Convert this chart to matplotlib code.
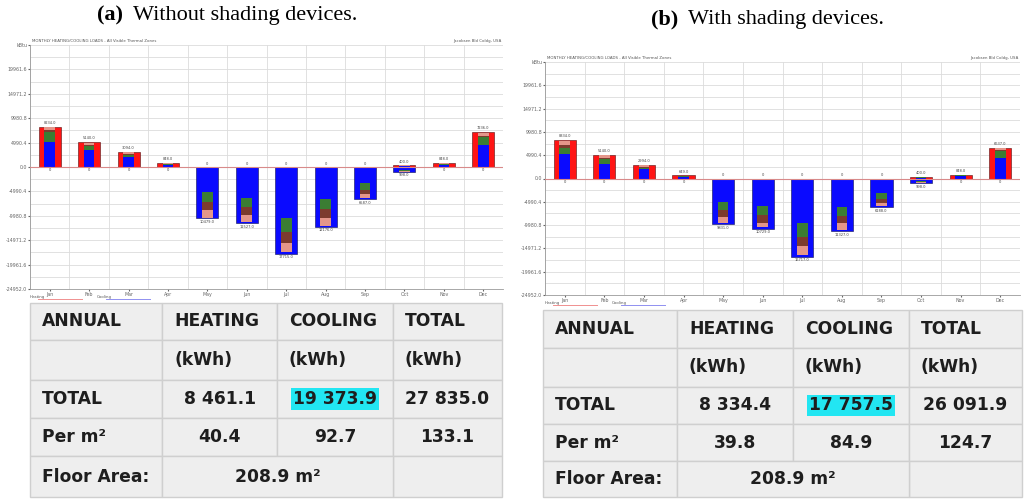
import numpy as np
import matplotlib
matplotlib.use("Agg")
import matplotlib.pyplot as plt
from matplotlib.patches import Rectangle

# =====================================================================
# Data (monthly loads in chart units)
# =====================================================================
MONTHS = ["Jan", "Feb", "Mar", "Apr", "May", "Jun", "Jul", "Aug", "Sep", "Oct", "Nov", "Dec"]
STEP = 4990.4          # y tick spacing of the load charts
UNIT_LABEL = "kBtu"

# (a) without shading devices
heat_tot_a = [8234, 5140, 3094, 848, 0, 0, 0, 0, 0, 400, 848, 7236]
heat_blue_a = [5190, 3493, 2096, 499, 0, 0, 0, 0, 0, 200, 499, 4591]
heat_green_a = [2046, 749, 399, 100, 0, 0, 0, 0, 0, 50, 150, 1497]
heat_brown_a = [349, 250, 200, 100, 0, 0, 0, 0, 0, 50, 50, 349]
heat_pink_a = [499, 499, 299, 100, 0, 0, 0, 0, 0, 50, 100, 599]
cool_tot_a = [0, 0, 0, 0, 10479, 11527, 17715, 12176, 6587, 998, 0, 0]
cool_blue_a = [0, 0, 0, 0, 5190, 6387, 10329, 6587, 3293, 599, 0, 0]
cool_green_a = [0, 0, 0, 0, 2046, 1846, 2894, 2096, 1447, 150, 0, 0]
cool_brown_a = [0, 0, 0, 0, 1647, 1647, 2246, 1647, 848, 100, 0, 0]
cool_pink_a = [0, 0, 0, 0, 1447, 1447, 1996, 1647, 798, 100, 0, 0]

# (b) with shading devices
heat_tot_b = [8334, 5140, 2994, 649, 0, 0, 0, 0, 0, 400, 848, 6637]
heat_blue_b = [5339, 3194, 1946, 399, 0, 0, 0, 0, 0, 200, 499, 4491]
heat_green_b = [1297, 898, 399, 100, 0, 0, 0, 0, 0, 50, 150, 1297]
heat_brown_b = [599, 300, 200, 50, 0, 0, 0, 0, 0, 50, 50, 300]
heat_pink_b = [848, 599, 300, 50, 0, 0, 0, 0, 0, 50, 100, 399]
cool_tot_b = [0, 0, 0, 0, 9831, 10729, 16717, 11327, 6188, 998, 0, 0]
cool_blue_b = [0, 0, 0, 0, 5140, 5988, 9631, 6188, 3194, 599, 0, 0]
cool_green_b = [0, 0, 0, 0, 1697, 1747, 2994, 1946, 1297, 150, 0, 0]
cool_brown_b = [0, 0, 0, 0, 1497, 1697, 1747, 1497, 848, 100, 0, 0]
cool_pink_b = [0, 0, 0, 0, 1297, 1048, 2096, 1497, 649, 100, 0, 0]

# annual summary tables
TABLE_HEADER = ["ANNUAL", "HEATING", "COOLING", "TOTAL"]
TABLE_UNITS = ["", "(kWh)", "(kWh)", "(kWh)"]
annual_a = [8461.1, 19373.9, 27835.0]
per_m2_a = [40.4, 92.7, 133.1]
annual_b = [8334.4, 17757.5, 26091.9]
per_m2_b = [39.8, 84.9, 124.7]
FLOOR_AREA = 208.9

TITLE_A = ("(a)", "Without shading devices.")
TITLE_B = ("(b)", "With shading devices.")
CHART_HEADER = "MONTHLY HEATING/COOLING LOADS - All Visible Thermal Zones"
CHART_SITE = "Jacobsen Bld Coldg, USA"

# =====================================================================
# Style
# =====================================================================
W, H = 1024, 499
RED = "#ff1414"
BLUE = "#0a0aff"
PART_COLORS = ["#0a0aff", "#3b7d33", "#7c3b2e", "#e4968a"]
GRID = "#dcdcdc"
CELL_FACE = "#eeeeee"
CELL_EDGE = "#cfcfcf"
HILITE = "#22e6f2"
TABLE_FONT = "DejaVu Sans"
TITLE_FONT = "Liberation Serif"

fig = plt.figure(figsize=(W / 100, H / 100), dpi=100)
fig.patch.set_facecolor("white")

overlay = fig.add_axes([0, 0, 1, 1])
overlay.set_xlim(0, W)
overlay.set_ylim(H, 0)
overlay.axis("off")


def px_axes(x0, y0, x1, y1):
    return fig.add_axes([x0 / W, 1 - y1 / H, (x1 - x0) / W, (y1 - y0) / H])


def fmt_kwh(v):
    return f"{v:,.1f}".replace(",", " ")


def draw_loads(ax, heat_tot, heat_parts, cool_tot, cool_parts):
    x = np.arange(len(MONTHS))
    heat_tot = np.asarray(heat_tot, float)
    cool_tot = np.asarray(cool_tot, float)

    ax.bar(x, heat_tot, width=0.56, color=RED, edgecolor="#501010", linewidth=0.4, zorder=2)
    ax.bar(x, -cool_tot, width=0.56, color=BLUE, edgecolor="#101050", linewidth=0.4, zorder=2)

    bottom = np.zeros(len(x))
    for part, col in zip(heat_parts, PART_COLORS):
        part = np.asarray(part, float)
        ax.bar(x, part, width=0.27, bottom=bottom, color=col, linewidth=0, zorder=3)
        bottom += part
    bottom = np.zeros(len(x))
    for part, col in zip(cool_parts, PART_COLORS):
        part = np.asarray(part, float)
        ax.bar(x, -part, width=0.27, bottom=bottom, color=col, linewidth=0, zorder=3)
        bottom -= part

    ax.axhline(0, color="#d88a8a", lw=0.8, zorder=4)

    # small value labels above/below each bar
    pad = 0.06 * STEP
    for i in x:
        ht = heat_tot[i]
        ct = cool_tot[i]
        ax.text(i, ht + pad, f"{ht:.1f}" if ht else "0", ha="center", va="bottom",
                fontsize=2.6, color="#444444", zorder=5)
        ax.text(i, -ct - pad, f"{ct:.1f}" if ct else "0", ha="center", va="top",
                fontsize=2.6, color="#444444", zorder=5)

    ax.set_xlim(-0.5, len(MONTHS) - 0.5)
    ax.set_ylim(-5 * STEP, 5 * STEP)
    ax.set_xticks(x)
    ax.set_xticklabels(MONTHS)
    ax.set_xticks(np.arange(-0.5, len(MONTHS), 1.0), minor=True)
    yt = np.arange(-5, 6) * STEP
    ax.set_yticks(yt)
    ylabels = [f"{v:.1f}" for v in yt]
    ylabels[-1] = UNIT_LABEL
    ylabels[5] = "0.0"
    ax.set_yticklabels(ylabels)
    ax.set_yticks(np.arange(-5, 5.5, 0.5) * STEP, minor=True)
    ax.grid(which="minor", axis="x", color=GRID, lw=0.6, zorder=0)
    ax.grid(which="both", axis="y", color=GRID, lw=0.6, zorder=0)
    ax.tick_params(which="major", labelsize=3.4, colors="#666666", length=1.2, pad=0.8)
    ax.tick_params(which="minor", length=0)
    for side in ["top", "right"]:
        ax.spines[side].set_visible(False)
    for side in ["left", "bottom"]:
        ax.spines[side].set_color("#9a9a9a")
        ax.spines[side].set_linewidth(0.6)
    ax.set_axisbelow(True)


def draw_header_and_legend(x0, x1, y_top, y_leg):
    overlay.text(x0 + 2, y_top, CHART_HEADER, fontsize=2.8, color="#555555", va="bottom")
    overlay.text(x1 - 2, y_top, CHART_SITE, fontsize=2.8, color="#555555", va="bottom", ha="right")
    overlay.text(x0, y_leg, "Heating", fontsize=2.8, color="#555555", va="bottom")
    overlay.plot([x0 + 8, x0 + 52], [y_leg, y_leg], color="#f09090", lw=0.7)
    overlay.text(x0 + 67, y_leg, "Cooling", fontsize=2.8, color="#555555", va="bottom")
    overlay.plot([x0 + 76, x0 + 120], [y_leg, y_leg], color="#9090f0", lw=0.7)


def draw_title(x_left, x_text, y, parts):
    overlay.text(x_left, y, parts[0], fontsize=16, fontweight="bold",
                 family=TITLE_FONT, va="center", ha="left")
    overlay.text(x_text, y, parts[1], fontsize=16, family=TITLE_FONT,
                 va="center", ha="left")


def draw_table(cols, rows, annual, per_m2):
    # background cells
    for r in range(len(rows) - 1):
        for c in range(len(cols) - 1):
            if r == len(rows) - 2 and c in (1, 2):
                continue
            overlay.add_patch(Rectangle((cols[c], rows[r]), cols[c + 1] - cols[c],
                                        rows[r + 1] - rows[r], facecolor=CELL_FACE,
                                        edgecolor=CELL_EDGE, lw=1.0, zorder=1))
    r = len(rows) - 2
    overlay.add_patch(Rectangle((cols[1], rows[r]), cols[3] - cols[1], rows[r + 1] - rows[r],
                                facecolor=CELL_FACE, edgecolor=CELL_EDGE, lw=1.0, zorder=1))

    fs = 12.3
    kw = dict(fontsize=fs, fontweight="bold", family=TABLE_FONT, color="#1e1e1e",
              va="center", zorder=3)
    ymid = [(rows[i] + rows[i + 1]) / 2 for i in range(len(rows) - 1)]
    xmid = [(cols[i] + cols[i + 1]) / 2 for i in range(len(cols) - 1)]
    for c, label in enumerate(TABLE_HEADER):
        overlay.text(cols[c] + 12, ymid[0], label, ha="left", **kw)
    for c, label in enumerate(TABLE_UNITS):
        if label:
            overlay.text(cols[c] + 12, ymid[1], label, ha="left", **kw)
    overlay.text(cols[0] + 12, ymid[2], "TOTAL", ha="left", **kw)
    for c, v in enumerate(annual, start=1):
        t = overlay.text(xmid[c], ymid[2], fmt_kwh(v), ha="center", **kw)
        if c == 2:
            t.set_bbox(dict(facecolor=HILITE, edgecolor="none", pad=1.2))
    overlay.text(cols[0] + 12, ymid[3], "Per m²", ha="left", **kw)
    for c, v in enumerate(per_m2, start=1):
        overlay.text(xmid[c], ymid[3], f"{v:.1f}", ha="center", **kw)
    overlay.text(cols[0] + 12, ymid[4], "Floor Area:", ha="left", **kw)
    overlay.text((cols[1] + cols[3]) / 2, ymid[4], f"{FLOOR_AREA:.1f} m²", ha="center", **kw)


# =====================================================================
# Panel (a)
# =====================================================================
ax_a = px_axes(30, 45, 503, 289)
draw_loads(ax_a, heat_tot_a, [heat_blue_a, heat_green_a, heat_brown_a, heat_pink_a],
           cool_tot_a, [cool_blue_a, cool_green_a, cool_brown_a, cool_pink_a])
draw_header_and_legend(30, 503, 43, 299)
draw_title(97, 133, 15, TITLE_A)
draw_table([30, 162, 277, 393, 502], [303, 340, 380, 418, 456, 497], annual_a, per_m2_a)

# =====================================================================
# Panel (b)
# =====================================================================
ax_b = px_axes(545, 62, 1020, 295)
draw_loads(ax_b, heat_tot_b, [heat_blue_b, heat_green_b, heat_brown_b, heat_pink_b],
           cool_tot_b, [cool_blue_b, cool_green_b, cool_brown_b, cool_pink_b])
draw_header_and_legend(545, 1020, 60, 305)
draw_title(651, 688, 19, TITLE_B)
draw_table([543, 677, 793, 909, 1022], [310, 348, 387, 424, 461, 497], annual_b, per_m2_b)

fig.savefig("out.png", dpi=100)
